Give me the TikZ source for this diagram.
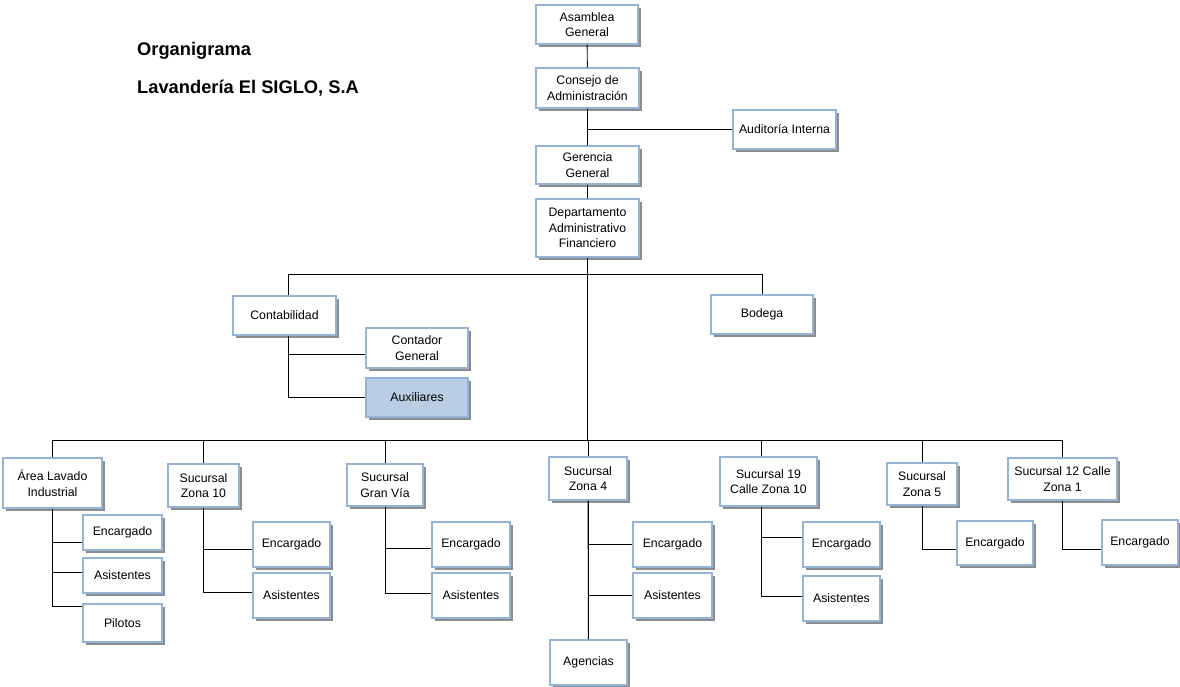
\documentclass[tikz,border=0pt]{standalone}
\definecolor{orgBlue}{RGB}{149,179,215}
\definecolor{auxBlue}{RGB}{185,205,228}
\usepackage{fontspec}
\setmainfont{Liberation Sans}
\usepackage{tikz}
\usetikzlibrary{positioning,calc,shadows}
\newcommand{\orgfont}{\fontsize{12.3}{15.5}\selectfont}
\newcommand{\titlefont}{\fontsize{18.3}{22}\selectfont\bfseries}

\begin{document}
\begin{tikzpicture}[
        x=1pt, y=-1pt,
        box/.style={draw=orgBlue, line width=1.3pt, fill=white, font=\orgfont,
          align=center, inner sep=2pt, minimum width=103pt, minimum height=39pt,
          drop shadow={shadow xshift=2.5pt, shadow yshift=-2.5pt, fill=black!45, opacity=1}},
        small/.style={box, minimum width=77pt, minimum height=45pt},
        link/.style={draw=black, line width=0.9pt},
        title/.style={font=\titlefont, anchor=base west, inner sep=0pt}
      ]
        \useasboundingbox (0,0) rectangle (1180,686);

        % titulo
        \node[title] (titulo) at (137,55) {Organigrama};
        \node[title] (empresa) at (137,93) {Lavandería El SIGLO, S.A};

        % direccion
        \node[box, minimum width=102pt] (asamblea) at (587,24.5) {Asamblea\\General};
        \node[box, minimum height=40pt] (consejo) at (587.5,88) {Consejo de\\Administración};
        \node[box] (auditoria) at (784.5,129.5) {Auditoría Interna};
        \node[box, minimum height=38pt] (gerencia) at (587.5,165) {Gerencia\\General};
        \node[box, minimum height=58pt] (depto) at (587.5,228) {Departamento\\Administrativo\\Financiero};

        \node[box] (conta) at (284.5,315.5) {Contabilidad};
        \node[box, minimum width=102pt, minimum height=40pt] (contador) at (417,348) {Contador\\General};
        \node[box, minimum width=102pt, fill=auxBlue] (auxiliares) at (417,397.5) {Auxiliares};
        \node[box, minimum width=102pt] (bodega) at (762,314.5) {Bodega};

        % sucursales
        \node[box, minimum width=99pt, minimum height=50pt] (lavado) at (52.5,483) {Área Lavado\\Industrial};
        \node[small, minimum width=79pt, minimum height=35pt] (lavEnc) at (122.5,532.5) {Encargado};
        \node[small, minimum width=79pt, minimum height=35pt] (lavAsi) at (122.5,575.5) {Asistentes};
        \node[small, minimum width=79pt, minimum height=38pt] (lavPil) at (122.5,623) {Pilotos};

        \node[box, minimum width=71pt, minimum height=43pt] (zona10) at (203.5,485.5) {Sucursal\\Zona 10};
        \node[small] (z10Enc) at (291.5,544.5) {Encargado};
        \node[small] (z10Asi) at (291.5,595.5) {Asistentes};

        \node[box, minimum width=76pt, minimum height=42pt] (granvia) at (385,485) {Sucursal\\Gran Vía};
        \node[small, minimum width=78pt] (gvEnc) at (471,544.5) {Encargado};
        \node[small, minimum width=78pt] (gvAsi) at (471,595.5) {Asistentes};

        \node[box, minimum width=78pt, minimum height=43pt] (zona4) at (588,478.5) {Sucursal\\Zona 4};
        \node[small, minimum width=79pt] (z4Enc) at (672.5,544.5) {Encargado};
        \node[small, minimum width=79pt] (z4Asi) at (672.5,595.5) {Asistentes};
        \node[small] (agencias) at (588.5,662.5) {Agencias};

        \node[box, minimum width=97pt, minimum height=49pt] (calle19) at (768.5,481.5) {Sucursal 19\\Calle Zona 10};
        \node[small] (c19Enc) at (841.5,544.5) {Encargado};
        \node[small] (c19Asi) at (841.5,598.5) {Asistentes};

        \node[box, minimum width=70pt, minimum height=42pt] (zona5) at (922,484) {Sucursal\\Zona 5};
        \node[small, minimum width=76pt, minimum height=44pt] (z5Enc) at (995,543) {Encargado};

        \node[box, minimum width=109pt, minimum height=42pt] (calle12) at (1062.5,479) {Sucursal 12 Calle\\Zona 1};
        \node[small, minimum width=76pt] (c12Enc) at (1140,542.5) {Encargado};

        % lineas
        \coordinate (busA) at (587.5,274);
        \coordinate (busB) at (587.5,440);
        \draw[link] (asamblea) -- (consejo) -- (gerencia) -- (depto);
        \draw[link] (auditoria) -- (auditoria -| consejo);
        \draw[link] (depto) -- (busB);
        \draw[link] (busA) -| ([xshift=3.5pt]conta.north);
        \draw[link] (busA) -| (bodega.north);
        \draw[link] ([xshift=3.5pt]conta.south) |- ([yshift=-6pt]contador.west);
        \draw[link] ([xshift=3.5pt]conta.south) |- (auxiliares.west);

        \draw[link] (busB) -| (lavado.north);
        \draw[link] (busB) -| (zona10.north);
        \draw[link] (busB) -| (granvia.north);
        \draw[link] (busB) -| (zona4.north);
        \draw[link] (busB) -| ([xshift=-7.5pt]calle19.north);
        \draw[link] (busB) -| (zona5.north);
        \draw[link] (busB) -| (calle12.north);

        \draw[link] (lavado.south) |- ([yshift=-10pt]lavEnc.west);
        \draw[link] (lavado.south) |- ([yshift=3.5pt]lavAsi.west);
        \draw[link] (lavado.south) |- ([yshift=17pt]lavPil.west);
        \draw[link] (zona10.south) |- ([yshift=-4.5pt]z10Enc.west);
        \draw[link] (zona10.south) |- ([yshift=3.5pt]z10Asi.west);
        \draw[link] (granvia.south) |- ([yshift=-3.5pt]gvEnc.west);
        \draw[link] (granvia.south) |- ([yshift=2.5pt]gvAsi.west);
        \draw[link] (zona4.south) |- (z4Enc.west);
        \draw[link] (zona4.south) |- (z4Asi.west);
        \draw[link] (zona4) -- (agencias);
        \draw[link] ([xshift=-7.5pt]calle19.south) |- ([yshift=7.5pt]c19Enc.west);
        \draw[link] ([xshift=-7.5pt]calle19.south) |- ([yshift=2.5pt]c19Asi.west);
        \draw[link] (zona5.south) |- ([yshift=-6pt]z5Enc.west);
        \draw[link] (calle12.south) |- ([yshift=-6.5pt]c12Enc.west);
      \end{tikzpicture}
\end{document}
